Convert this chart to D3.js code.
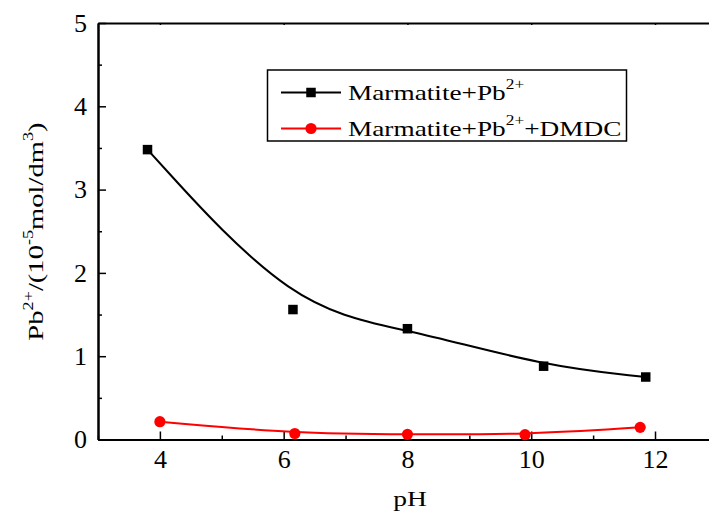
<!DOCTYPE html>
<html>
<head>
<meta charset="utf-8">
<script src="https://cdn.jsdelivr.net/npm/d3@7"></script>
<style>
html,body{margin:0;padding:0;background:#fff;}
svg{display:block;}
text{font-family:"Liberation Serif","Times New Roman",serif;fill:#000;}
</style>
</head>
<body>
<svg id="chart" width="709" height="511"></svg>
<script>
// ---- data ----
const phBlack = [3.8, 6.15, 8.0, 10.2, 11.85];
const pbBlack = [3.48, 1.56, 1.33, 0.88, 0.75];
const phRed = [4.0, 6.18, 8.0, 9.9, 11.76];
const pbRed = [0.214, 0.072, 0.062, 0.058, 0.146];
const xMajor = [4, 6, 8, 10, 12];
const xMinor = [3, 5, 7, 9, 11, 13];
const yMajor = [0, 1, 2, 3, 4, 5];
const yMinor = [0.5, 1.5, 2.5, 3.5, 4.5];

(function () {
const svg = d3.select("#chart");
const pL = 98, pR = 716.9, pT = 23, pB = 439.5;
const x = d3.scaleLinear().domain([3, 13]).range([pL, pR]);
const y = d3.scaleLinear().domain([0, 5]).range([pB, pT]);

function styleAxis(g) {
  g.select(".domain").attr("stroke", "#000").attr("stroke-width", 2);
  g.selectAll(".tick line").attr("stroke", "#000").attr("stroke-width", 1.5);
  g.selectAll(".tick text").attr("font-family", "Liberation Serif, Times New Roman, serif")
    .attr("font-size", 26).attr("fill", "#000");
}
svg.append("g").attr("transform", `translate(0,${pB})`)
  .call(d3.axisBottom(x).tickValues(xMajor).tickSizeInner(-8).tickSizeOuter(0).tickPadding(10).tickFormat(d3.format("d")))
  .call(styleAxis);
svg.append("g").attr("transform", `translate(0,${pB})`)
  .call(d3.axisBottom(x).tickValues(xMinor).tickSizeInner(-4).tickSizeOuter(0).tickFormat(""))
  .call(styleAxis);
svg.append("g").attr("transform", `translate(${pL},0)`)
  .call(d3.axisLeft(y).tickValues(yMajor).tickSizeInner(-8).tickSizeOuter(0).tickPadding(11).tickFormat(d3.format("d")))
  .call(styleAxis);
svg.append("g").attr("transform", `translate(${pL},0)`)
  .call(d3.axisLeft(y).tickValues(yMinor).tickSizeInner(-4).tickSizeOuter(0).tickFormat(""))
  .call(styleAxis);
svg.append("g").attr("transform", `translate(0,${pT})`)
  .call(d3.axisTop(x).tickValues(xMajor).tickSizeInner(-2).tickSizeOuter(0).tickFormat(""))
  .call(styleAxis);
svg.append("g").attr("transform", `translate(${pR},0)`)
  .call(d3.axisRight(y).tickValues(yMajor).tickSizeInner(-2).tickSizeOuter(0).tickFormat(""))
  .call(styleAxis);

const lineB = d3.line().x(d => x(d[0])).y(d => y(d[1])).curve(d3.curveBasis);
const blackPts = phBlack.map((v, i) => [v, pbBlack[i]]);
const redPts = phRed.map((v, i) => [v, pbRed[i]]);

svg.append("path").datum(blackPts).attr("d", lineB)
  .attr("fill", "none").attr("stroke", "#000").attr("stroke-width", 2);
svg.append("path").datum(redPts).attr("d", lineB)
  .attr("fill", "none").attr("stroke", "#ff0000").attr("stroke-width", 2);

const sq = 9.5;
svg.selectAll("rect.pt").data(blackPts).enter().append("rect").attr("class", "pt")
  .attr("x", d => x(d[0]) - sq / 2).attr("y", d => y(d[1]) - sq / 2)
  .attr("width", sq).attr("height", sq).attr("fill", "#000");
svg.selectAll("circle.pt").data(redPts).enter().append("circle").attr("class", "pt")
  .attr("cx", d => x(d[0])).attr("cy", d => y(d[1])).attr("r", 5.6).attr("fill", "#ff0000");

function richText(g, parts, size, supSize, supRaise) {
  const t = g.append("text").attr("font-size", size);
  let raised = false;
  parts.forEach(([s, sup]) => {
    const ts = t.append("tspan").text(s);
    if (sup && !raised) { ts.attr("dy", -supRaise).attr("font-size", supSize); raised = true; }
    else if (sup) { ts.attr("font-size", supSize); }
    else if (!sup && raised) { ts.attr("dy", supRaise); raised = false; }
  });
  return t;
}

const lg = svg.append("g");
lg.append("rect").attr("x", 267.5).attr("y", 70).attr("width", 359).attr("height", 71)
  .attr("fill", "#fff").attr("stroke", "#000").attr("stroke-width", 1.5);
const legendRows = [
  {y: 92.5, color: "#000", shape: "square", parts: [["Marmatite+Pb", false], ["2+", true]]},
  {y: 128.5, color: "#ff0000", shape: "circle", parts: [["Marmatite+Pb", false], ["2+", true], ["+DMDC", false]]}
];
legendRows.forEach(r => {
  lg.append("line").attr("x1", 281).attr("x2", 341).attr("y1", r.y).attr("y2", r.y)
    .attr("stroke", r.color).attr("stroke-width", 2);
  if (r.shape === "square") {
    lg.append("rect").attr("x", 311 - sq / 2).attr("y", r.y - sq / 2).attr("width", sq).attr("height", sq).attr("fill", r.color);
  } else {
    lg.append("circle").attr("cx", 311).attr("cy", r.y).attr("r", 5.6).attr("fill", r.color);
  }
  const tg = lg.append("g").attr("transform", `translate(348,${r.y + 7.5}) scale(1.24,1)`);
  richText(tg, r.parts, 22, 14, 11);
});

const xl = svg.append("g").attr("transform", `translate(410,506) scale(1.25,1)`);
xl.append("text").attr("text-anchor", "middle").attr("font-size", 22).text("pH");

const yl = svg.append("g").attr("transform", `translate(43,231.5) rotate(-90) scale(1.3,1)`);
const yt = richText(yl, [["Pb", false], ["2+", true], ["/(10", false], ["-5", true], ["mol/dm", false], ["3", true], [")", false]], 22, 14, 10);
yt.attr("text-anchor", "middle");
})();
</script>
</body>
</html>
